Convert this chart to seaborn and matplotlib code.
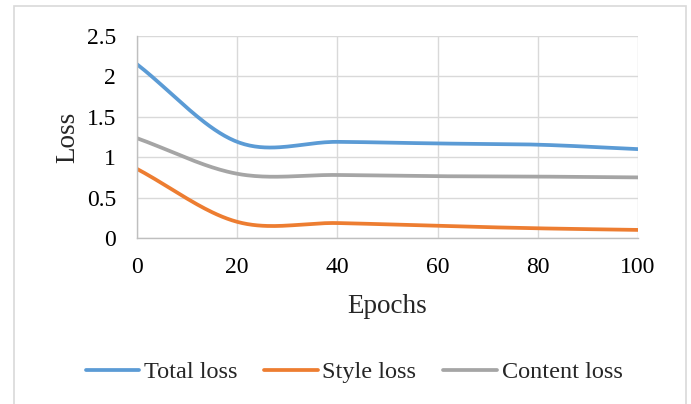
import numpy as np
import pandas as pd
import matplotlib
matplotlib.use("Agg")
import matplotlib.pyplot as plt
import seaborn as sns
from matplotlib.patches import Rectangle

# ---- data ----
epochs = [0, 20, 40, 60, 80, 100]
total_loss = [2.15, 1.19, 1.19, 1.17, 1.155, 1.10]
style_loss = [0.855, 0.20, 0.185, 0.15, 0.12, 0.10]
content_loss = [1.235, 0.795, 0.78, 0.765, 0.76, 0.75]
series_names = ["Total loss", "Style loss", "Content loss"]
colors = ["#5B9BD5", "#ED7D31", "#A5A5A5"]
y_ticks = [0, 0.5, 1, 1.5, 2, 2.5]
y_tick_labels = ["0", "0.5", "1", "1.5", "2", "2.5"]
x_ticks = [0, 20, 40, 60, 80, 100]


def smooth(xs, ys, n=40):
    """Catmull-Rom style smoothing (like Excel's smoothed line)."""
    xs = np.asarray(xs, float)
    ys = np.asarray(ys, float)
    px = np.concatenate([[2 * xs[0] - xs[1]], xs, [2 * xs[-1] - xs[-2]]])
    py = np.concatenate([[2 * ys[0] - ys[1]], ys, [2 * ys[-1] - ys[-2]]])
    ox, oy = [], []
    t = np.linspace(0, 1, n, endpoint=False)
    for i in range(1, len(px) - 2):
        p0, p1, p2, p3 = (np.array([px[j], py[j]]) for j in (i - 1, i, i + 1, i + 2))
        t2, t3 = t * t, t * t * t
        pts = 0.5 * ((2 * p1)[:, None]
                     + (-p0 + p2)[:, None] * t
                     + (2 * p0 - 5 * p1 + 4 * p2 - p3)[:, None] * t2
                     + (-p0 + 3 * p1 - 3 * p2 + p3)[:, None] * t3)
        ox.extend(pts[0]); oy.extend(pts[1])
    ox.append(xs[-1]); oy.append(ys[-1])
    return np.array(ox), np.array(oy)


frames = []
for name, vals in zip(series_names, [total_loss, style_loss, content_loss]):
    sx, sy = smooth(epochs, vals)
    frames.append(pd.DataFrame({"Epochs": sx, "Loss": sy, "Series": name}))
df = pd.concat(frames, ignore_index=True)

sns.set_theme(style="white")
plt.rcParams["font.family"] = ["Liberation Serif", "DejaVu Serif"]

fig = plt.figure(figsize=(6.91, 4.04), dpi=100)
ax = fig.add_axes([137 / 691, 1 - 238 / 404, (638 - 137) / 691, (238 - 36) / 404])

sns.lineplot(data=df, x="Epochs", y="Loss", hue="Series", hue_order=series_names,
             palette=colors, linewidth=2.7, sort=False, estimator=None, ax=ax,
             legend=True)

ax.set_xlim(0, 100)
ax.set_ylim(0, 2.5)
ax.set_xticks(x_ticks)
ax.set_xticklabels([str(v) for v in x_ticks], fontsize=17)
ax.set_yticks(y_ticks)
ax.set_yticklabels(y_tick_labels, fontsize=17)
ax.tick_params(axis="both", length=0, colors="black")
ax.tick_params(axis="x", pad=14)
ax.tick_params(axis="y", pad=15)
ax.grid(True, color="#D9D9D9", linewidth=1.0)
ax.set_axisbelow(True)
for side in ["top", "right"]:
    ax.spines[side].set_visible(False)
ax.spines["left"].set_color("#BFBFBF")
ax.spines["bottom"].set_color("#BFBFBF")
ax.spines["left"].set_linewidth(1.0)
ax.spines["bottom"].set_linewidth(1.0)

ax.set_xlabel("Epochs", fontsize=19.5, labelpad=11)
ax.set_ylabel("Loss", fontsize=19.5, labelpad=4.5)

handles, labels = ax.get_legend_handles_labels()
ax.legend_.remove()
fig.legend(handles, labels, loc="center", bbox_to_anchor=(354 / 691, 1 - 372 / 404),
           ncol=3, frameon=False, fontsize=17.5, handlelength=2.2,
           handletextpad=0.2, columnspacing=1.1)

# outer chart border
fig.patches.append(Rectangle((14 / 691, -0.01), (686 - 14) / 691, 1 - 6 / 404 + 0.01,
                             transform=fig.transFigure, fill=False,
                             edgecolor="#D9D9D9", linewidth=1.2))

fig.savefig("out.png", dpi=100)
